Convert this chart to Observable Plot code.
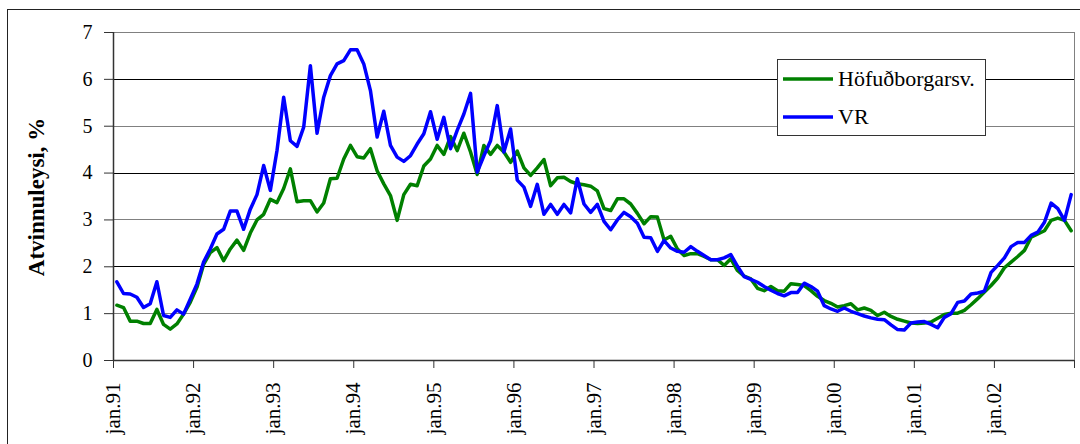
<!DOCTYPE html>
<html>
<head>
<meta charset="utf-8">
<script src="https://cdn.jsdelivr.net/npm/d3@7"></script>
<script src="https://cdn.jsdelivr.net/npm/@observablehq/plot@0.6"></script>
<style>
html,body{margin:0;padding:0;width:1080px;height:444px;overflow:hidden;background:#fff;}
#wrap{position:relative;width:1080px;height:444px;font-family:'Liberation Serif','Times New Roman',Times,serif;}
#frame{position:absolute;left:7px;top:9px;width:1200px;height:600px;border:1px solid #222;box-sizing:border-box;}
#chart{position:absolute;left:0;top:0;}
#legend{position:absolute;left:777px;top:59px;}
#ytitle{position:absolute;left:0;top:0;}
#wrap svg, #wrap svg text{font-family:'Liberation Serif','Times New Roman',Times,serif !important;}
</style>
</head>
<body>
<div id="wrap">
  <div id="frame"></div>
  <div id="chart"></div>
  <div id="ytitle"></div>
  <div id="legend"></div>
</div>
<script>
// Monthly unemployment, jan.91 - dec.02
const tickLabels = ["jan.91","jan.92","jan.93","jan.94","jan.95","jan.96","jan.97","jan.98","jan.99","jan.00","jan.01","jan.02"];
const seriesNames = ["Höfuðborgarsv.", "VR"];
const seriesColors = ["#008000", "#0000ff"];
const yTicks = [0,1,2,3,4,5,6,7];
const yTitle = "Atvinnuleysi, %";

const hofud = [
  1.18,1.13,0.84,0.84,0.79,0.79,1.09,0.77,0.67,0.78,0.99,1.24,
  1.56,2.05,2.30,2.41,2.13,2.38,2.57,2.35,2.72,3.00,3.12,3.44,
  3.37,3.67,4.09,3.39,3.41,3.41,3.17,3.36,3.88,3.89,4.30,4.59,
  4.35,4.32,4.52,4.05,3.77,3.52,2.99,3.54,3.76,3.73,4.15,4.30,
  4.59,4.40,4.78,4.48,4.85,4.45,3.97,4.59,4.40,4.59,4.45,4.23,
  4.47,4.11,3.95,4.11,4.29,3.73,3.90,3.91,3.82,3.77,3.75,3.72,
  3.62,3.24,3.20,3.45,3.45,3.34,3.14,2.92,3.07,3.06,2.57,2.65,
  2.38,2.24,2.28,2.28,2.22,2.15,2.15,2.03,2.17,1.92,1.80,1.74,
  1.54,1.49,1.58,1.49,1.48,1.64,1.62,1.60,1.49,1.37,1.28,1.22,
  1.14,1.17,1.21,1.08,1.12,1.07,0.96,1.03,0.94,0.88,0.84,0.80,
  0.79,0.80,0.82,0.90,0.98,1.01,1.01,1.07,1.19,1.32,1.46,1.60,
  1.76,1.98,2.10,2.22,2.35,2.63,2.70,2.77,2.99,3.04,2.99,2.77
];
const vr = [
  1.68,1.43,1.42,1.35,1.13,1.21,1.68,0.96,0.92,1.08,0.99,1.31,
  1.63,2.10,2.38,2.70,2.80,3.19,3.19,2.80,3.23,3.54,4.16,3.63,
  4.48,5.62,4.69,4.57,4.98,6.29,4.85,5.62,6.08,6.33,6.40,6.63,
  6.63,6.33,5.76,4.77,5.32,4.59,4.34,4.25,4.37,4.62,4.84,5.31,
  4.72,5.19,4.52,4.91,5.26,5.70,4.02,4.37,4.69,5.44,4.45,4.94,
  3.85,3.70,3.29,3.76,3.12,3.33,3.12,3.33,3.15,3.88,3.34,3.16,
  3.33,2.97,2.79,3.00,3.16,3.07,2.93,2.63,2.62,2.33,2.56,2.40,
  2.33,2.31,2.43,2.33,2.24,2.15,2.15,2.19,2.26,2.01,1.79,1.73,
  1.67,1.58,1.50,1.43,1.38,1.45,1.45,1.65,1.58,1.48,1.17,1.10,
  1.05,1.12,1.05,1.00,0.95,0.91,0.88,0.87,0.76,0.66,0.65,0.80,
  0.82,0.83,0.77,0.70,0.92,1.00,1.24,1.27,1.42,1.44,1.48,1.88,
  2.03,2.19,2.43,2.52,2.52,2.67,2.74,2.95,3.36,3.24,2.99,3.54
];

const seriesValues = [hofud, vr];
const rows = [];
seriesValues.forEach((vals, s) => vals.forEach((v, i) => rows.push({i, v, s: seriesNames[s]})));

const n = hofud.length;
const xTicks = tickLabels.map((_, k) => k * 12 - 0.5).concat([n - 0.5]);
const serif = "'Liberation Serif','Times New Roman',Times,serif";

const chart = Plot.plot({
  width: 1080,
  height: 444,
  marginLeft: 113,
  marginRight: 6,
  marginTop: 32,
  marginBottom: 84,
  style: {fontFamily: serif, fontSize: "20px", color: "#000", background: "transparent", overflow: "visible"},
  x: {domain: [-0.5, n - 0.5]},
  y: {domain: [0, 7]},
  color: {domain: seriesNames, range: seriesColors},
  marks: [
    Plot.ruleY(yTicks.filter(t => t > 0 && t % 2 === 1), {stroke: "#808080", strokeWidth: 1, shapeRendering: "crispEdges"}),
    Plot.ruleY(yTicks.filter(t => t > 0 && t % 2 === 0), {stroke: "#000", strokeWidth: 1, shapeRendering: "crispEdges"}),
    Plot.ruleX([n - 0.5], {stroke: "#808080", strokeWidth: 1, shapeRendering: "crispEdges"}),
    Plot.axisY({ticks: yTicks, tickFormat: d => String(d), tickSize: 9, tickPadding: 12, label: null, fontSize: 20, stroke: "#333"}),
    Plot.axisX({
      ticks: xTicks,
      tickFormat: t => tickLabels[Math.round((t + 0.5) / 12)] ?? "",
      tickRotate: -90, tickSize: 8, tickPadding: 14, label: null, fontSize: 21, stroke: "#333"
    }),
    Plot.ruleX([-0.5], {stroke: "#333", strokeWidth: 1.5}),
    Plot.ruleY([0], {stroke: "#333", strokeWidth: 1.5}),
    Plot.line(rows, {x: "i", y: "v", stroke: "s", z: "s", strokeWidth: 3.5, strokeLinejoin: "round"})
  ]
});
document.getElementById("chart").appendChild(chart);

// Y axis title (rotated)
const yt = d3.select("#ytitle").append("svg")
  .attr("width", 80).attr("height", 400).style("display", "block");
yt.append("text")
  .attr("transform", "translate(36,197) rotate(-90)")
  .attr("text-anchor", "middle")
  .attr("dominant-baseline", "central")
  .style("font-family", serif).attr("font-size", 23).attr("font-weight", "bold").attr("fill", "#000")
  .text(yTitle);

// Legend
const lg = d3.select("#legend").append("svg")
  .attr("width", 210).attr("height", 78)
  .style("display", "block");
lg.append("rect").attr("x", 0.5).attr("y", 0.5).attr("width", 208).attr("height", 76)
  .attr("fill", "#fff").attr("stroke", "#333");
const legendRows = [20, 58];
seriesNames.forEach((name, k) => {
  lg.append("line").attr("x1", 6).attr("x2", 56).attr("y1", legendRows[k]).attr("y2", legendRows[k])
    .attr("stroke", seriesColors[k]).attr("stroke-width", 3.5);
  lg.append("text").attr("x", 61).attr("y", legendRows[k] + 7)
    .style("font-family", serif).attr("font-size", 22).attr("fill", "#000")
    .text(name);
});
</script>
</body>
</html>
